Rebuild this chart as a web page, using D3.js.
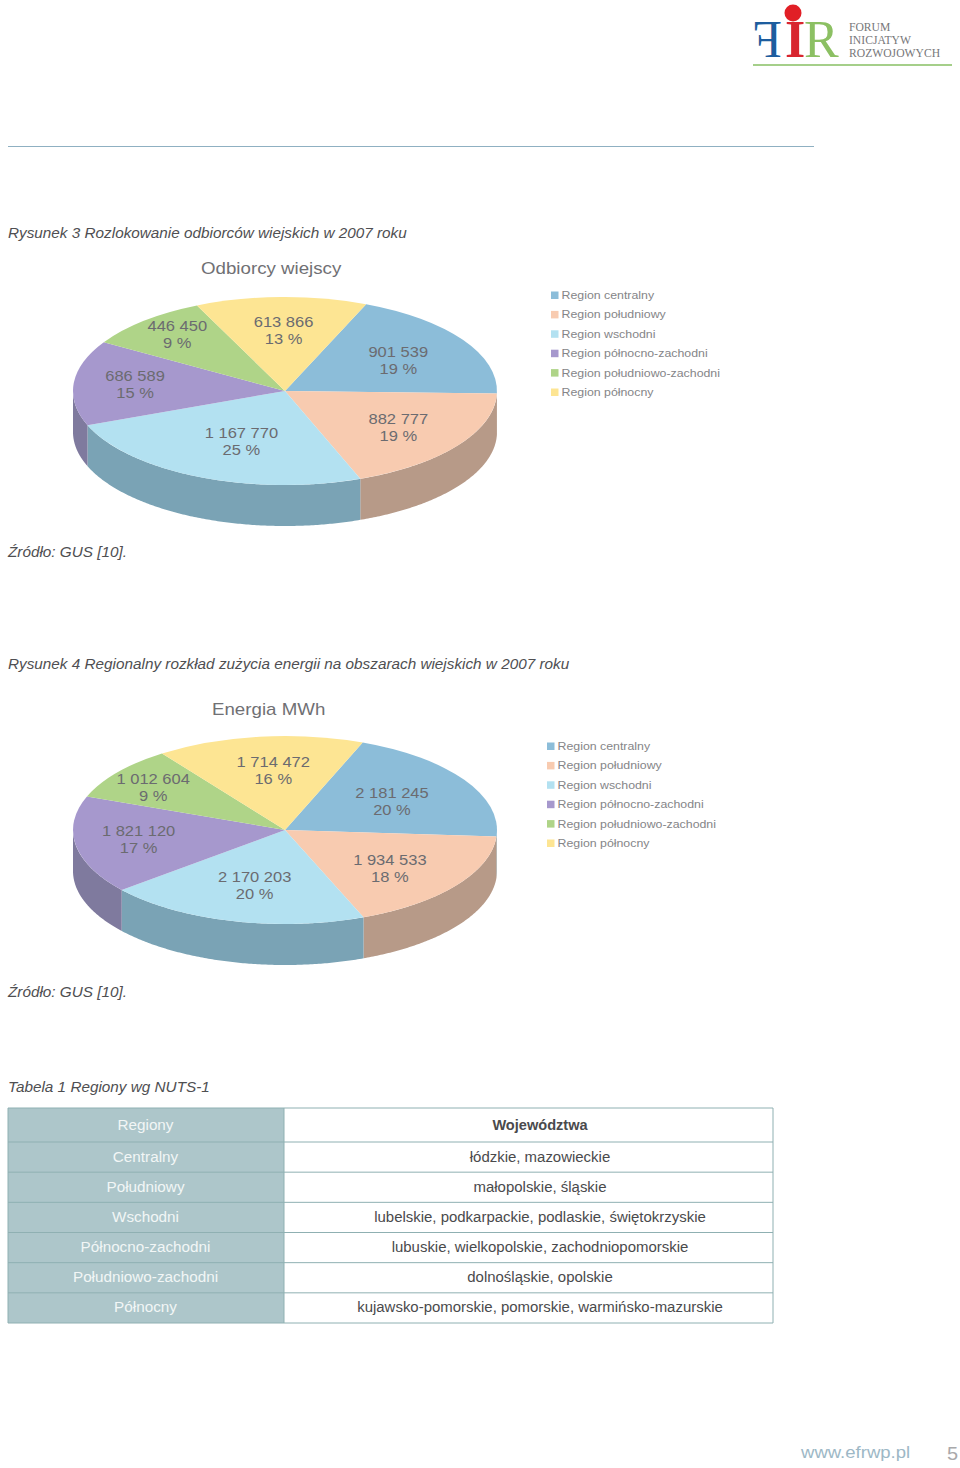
<!DOCTYPE html>
<html><head><meta charset="utf-8">
<script src="https://cdn.jsdelivr.net/npm/d3@7"></script>
<style>html,body{margin:0;padding:0;background:#fff}svg{display:block}text{font-family:"Liberation Sans",Arial,sans-serif}</style>
</head><body><svg id="c" width="960" height="1468"></svg>
<script>
const regions = ["Region centralny","Region południowy","Region wschodni","Region północno-zachodni","Region południowo-zachodni","Region północny"];
const odbiorcyValues = [901539,882777,1167770,686589,446450,613866];
const odbiorcyLabels = ["901 539","882 777","1 167 770","686 589","446 450","613 866"];
const odbiorcyPct = ["19 %","19 %","25 %","15 %","9 %","13 %"];
const energiaValues = [2181245,1934533,2170203,1821120,1012604,1714472];
const energiaLabels = ["2 181 245","1 934 533","2 170 203","1 821 120","1 012 604","1 714 472"];
const energiaPct = ["20 %","18 %","20 %","17 %","9 %","16 %"];
const tableHead = ["Regiony","Województwa"];
const tableRegions = ["Centralny","Południowy","Wschodni","Północno-zachodni","Południowo-zachodni","Północny"];
const tableVoivodeships = ["łódzkie, mazowieckie","małopolskie, śląskie","lubelskie, podkarpackie, podlaskie, świętokrzyskie","lubuskie, wielkopolskie, zachodniopomorskie","dolnośląskie, opolskie","kujawsko-pomorskie, pomorskie, warmińsko-mazurskie"];

const topColors = ["#8cbdd9","#f8cbb0","#b3e1f1","#a698cd","#afd488","#fde593"];
const sideColors = ["#7aa3b5","#b79a88","#7aa3b5","#7f7a9e","#8aa86c","#c9b676"];
const svg = d3.select("#c");

function txt(parent,str,x,y,o={}){
  const t=parent.append("text").attr("x",x).attr("y",y).text(str)
    .attr("font-size",o.size||14).attr("fill",o.fill||"#555")
    .attr("text-anchor",o.anchor||"start").attr("dominant-baseline",o.base||"auto");
  if(o.italic)t.attr("font-style","italic");
  if(o.weight)t.attr("font-weight",o.weight);
  if(o.family)t.style("font-family",o.family);
  const s=o.stretch||1.1;
  const w=t.node().getComputedTextLength();
  t.attr("textLength",w*s).attr("lengthAdjust","spacingAndGlyphs");
  return t;
}

function pieChart(cfg){
  const g=svg.append("g").attr("transform",`translate(${cfg.cx},${cfg.cy})`);
  const ratio=cfg.ry/cfg.rx;
  const arcs=d3.pie().sort(null).startAngle(cfg.start).endAngle(cfg.start+2*Math.PI)(cfg.values);
  const arc=d3.arc().innerRadius(0).outerRadius(cfg.rx);
  const wall=d3.area().x(a=>cfg.rx*Math.sin(a)).y0(a=>-cfg.ry*Math.cos(a)).y1(a=>-cfg.ry*Math.cos(a)+cfg.depth);
  arcs.forEach((d,i)=>{
    [0,2*Math.PI].forEach(off=>{
      const a0=Math.max(d.startAngle,Math.PI/2+off),a1=Math.min(d.endAngle,1.5*Math.PI+off);
      if(a1>a0){
        const n=Math.ceil((a1-a0)/0.01);
        const pts=d3.range(n+1).map(k=>a0+(a1-a0)*k/n);
        g.append("path").attr("d",wall(pts)).attr("fill",sideColors[i]);
      }
    });
  });
  const top=g.append("g").attr("transform",`scale(1,${ratio})`);
  top.selectAll("path").data(arcs).join("path").attr("d",arc).attr("fill",(d,i)=>topColors[i]);
  arcs.forEach((d,i)=>{
    const m=(d.startAngle+d.endAngle)/2,f=cfg.labelRadius[i],n=cfg.nudge[i];
    const x=cfg.rx*f*Math.sin(m)+n[0],y=-cfg.ry*f*Math.cos(m)+n[1];
    txt(g,cfg.labels[i],x,y-3,{size:15,fill:"#6b6b70",anchor:"middle",stretch:1.1});
    txt(g,cfg.pct[i],x,y+14,{size:15,fill:"#6b6b70",anchor:"middle",stretch:1.1});
  });
  txt(svg,cfg.title,cfg.titleX,cfg.titleY,{size:17,fill:"#707074",stretch:1.1});
  const lg=svg.append("g");
  const ly=d3.scalePoint().domain(regions).range([cfg.legendY,cfg.legendY+97]);
  regions.forEach((r,i)=>{
    lg.append("rect").attr("x",cfg.legendX).attr("y",ly(r)-3.5).attr("width",7.5).attr("height",7.5).attr("fill",topColors[i]);
    txt(lg,r,cfg.legendX+10.5,ly(r)+4,{size:11.5,fill:"#858588",stretch:1.073});
  });
}

// logo
const logo=svg.append("g");
const serif='"Liberation Serif",serif';
logo.append("text").text("F").attr("transform","translate(782,57) scale(-1,1)").attr("font-size",52).style("font-family",serif).attr("fill","#1d5d9e");
logo.append("text").text("I").attr("x",785).attr("y",57).attr("font-size",52).attr("font-weight","bold").style("font-family",serif).attr("fill","#d8262f");
logo.append("text").text("R").attr("x",804).attr("y",57).attr("font-size",52).style("font-family",serif).attr("fill","#8cc063");
logo.append("circle").attr("cx",793).attr("cy",13).attr("r",8.5).attr("fill","#e11f26");
["FORUM","INICJATYW","ROZWOJOWYCH"].forEach((s,i)=>txt(logo,s,849,31+i*13,{size:12.5,fill:"#77777a",family:serif,stretch:0.93}));
logo.append("line").attr("x1",753).attr("x2",952).attr("y1",65).attr("y2",65).attr("stroke","#a5cf8a").attr("stroke-width",2);
svg.append("line").attr("x1",8).attr("x2",814).attr("y1",146.5).attr("y2",146.5).attr("stroke","#8fb0c2").attr("stroke-width",1);

const cap={size:14.5,fill:"#4f4f52",italic:true,stretch:1.055};
txt(svg,"Rysunek 3 Rozlokowanie odbiorców wiejskich w 2007 roku",8,237.5,cap);
txt(svg,"Źródło: GUS [10].",8,556.5,cap);
txt(svg,"Rysunek 4 Regionalny rozkład zużycia energii na obszarach wiejskich w 2007 roku",8,668.5,cap);
txt(svg,"Źródło: GUS [10].",8,996.5,cap);
txt(svg,"Tabela 1 Regiony wg NUTS-1",8,1091.5,cap);

const deg=Math.PI/180;
pieChart({cx:285,cy:391,rx:212,ry:94,depth:41,start:22.5*deg,values:odbiorcyValues,labels:odbiorcyLabels,pct:odbiorcyPct,
  labelRadius:[.62,.65,.6,.71,.8,.65],nudge:[[3,1],[1,1],[8,-2],[0,-1],[5,-1],[1,0]],
  title:"Odbiorcy wiejscy",titleX:201,titleY:274,legendX:551,legendY:295});
pieChart({cx:285,cy:830,rx:212,ry:94,depth:41,start:21.5*deg,values:energiaValues,labels:energiaLabels,pct:energiaPct,
  labelRadius:[.58,.63,.56,.7,.81,.65],nudge:[[3,0],[-3,3],[-1,4],[0,-2],[4,4],[5,1]],
  title:"Energia MWh",titleX:212,titleY:715,legendX:547,legendY:746});

// table
const tableRows=[[tableHead[0],tableHead[1]],...tableRegions.map((r,i)=>[r,tableVoivodeships[i]])];
const rowY=d3.scaleLinear().domain([1,7]).range([1142,1323]);
const yOf=i=>i===0?1108:rowY(i);
const xL=8,xM=284,xR=773;
const tg=svg.append("g");
tg.append("rect").attr("x",xL).attr("y",1108).attr("width",xM-xL).attr("height",1323-1108).attr("fill","#adc6ca");
d3.range(8).forEach(i=>tg.append("line").attr("x1",xL).attr("x2",xR).attr("y1",yOf(i)).attr("y2",yOf(i)).attr("stroke","#8fb0b2").attr("stroke-width",1));
[xL,xM,xR].forEach(x=>tg.append("line").attr("x1",x).attr("x2",x).attr("y1",1108).attr("y2",1323).attr("stroke","#8fb0b2").attr("stroke-width",1));
tableRows.forEach((r,i)=>{
  const mid=(yOf(i)+yOf(i+1))/2+(i===0?5:4.5);
  txt(tg,r[0],(xL+xM)/2-0.5,mid,{size:14,fill:"#f2f6f6",anchor:"middle",stretch:1.09});
  txt(tg,r[1],540,mid,{size:14,fill:"#4a4a4c",anchor:"middle",stretch:i===0?1.04:1.068,weight:i===0?"bold":null});
});
txt(svg,"www.efrwp.pl",801,1458,{size:17,fill:"#9db8c6",stretch:1.09});
txt(svg,"5",947,1460,{size:19,fill:"#a9a9ab",stretch:1.05});
</script></body></html>
